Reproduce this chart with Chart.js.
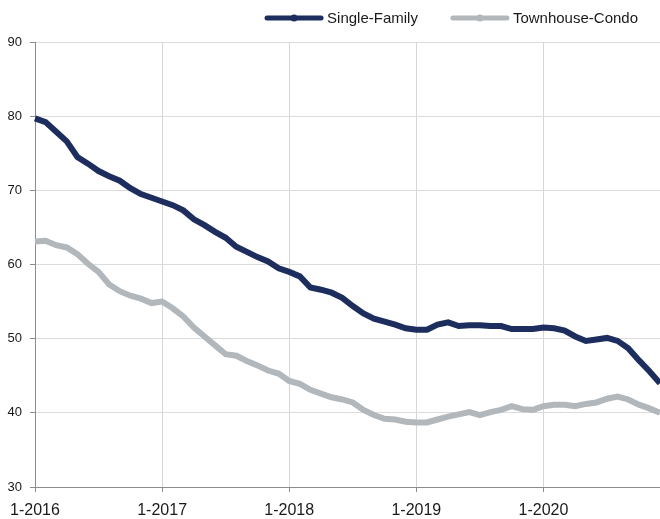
<!DOCTYPE html>
<html>
<head>
<meta charset="utf-8">
<script src="https://cdn.jsdelivr.net/npm/chart.js@4/dist/chart.umd.min.js"></script>
<style>
  body { margin: 0; background: #fff; }
  canvas { display: block; }
</style>
</head>
<body>
<canvas id="myChart" width="660" height="519"></canvas>
<script>
var monthLabels = [
  '1-2016','2-2016','3-2016','4-2016','5-2016','6-2016','7-2016','8-2016','9-2016','10-2016','11-2016','12-2016',
  '1-2017','2-2017','3-2017','4-2017','5-2017','6-2017','7-2017','8-2017','9-2017','10-2017','11-2017','12-2017',
  '1-2018','2-2018','3-2018','4-2018','5-2018','6-2018','7-2018','8-2018','9-2018','10-2018','11-2018','12-2018',
  '1-2019','2-2019','3-2019','4-2019','5-2019','6-2019','7-2019','8-2019','9-2019','10-2019','11-2019','12-2019',
  '1-2020','2-2020','3-2020','4-2020','5-2020','6-2020','7-2020','8-2020','9-2020','10-2020','11-2020','12-2020'
];

var singleFamily = [
  79.7, 79.2, 77.9, 76.6, 74.5, 73.6, 72.6, 71.9, 71.3, 70.3, 69.5, 69.0,
  68.5, 68.0, 67.3, 66.1, 65.3, 64.4, 63.6, 62.4, 61.7, 61.0, 60.4, 59.5,
  59.0, 58.4, 56.9, 56.6, 56.2, 55.5, 54.4, 53.4, 52.7, 52.3, 51.9, 51.4,
  51.2, 51.2, 51.9, 52.2, 51.7, 51.8, 51.8, 51.7, 51.7, 51.3, 51.3, 51.3,
  51.5, 51.4, 51.1, 50.3, 49.7, 49.9, 50.1, 49.7, 48.7, 47.1, 45.6, 44.0
];

var townhouseCondo = [
  63.1, 63.2, 62.6, 62.3, 61.4, 60.1, 59.0, 57.3, 56.4, 55.8, 55.4, 54.8,
  55.0, 54.1, 53.0, 51.5, 50.3, 49.1, 47.9, 47.7, 47.0, 46.4, 45.7, 45.3,
  44.3, 43.9, 43.1, 42.6, 42.1, 41.8, 41.4, 40.4, 39.7, 39.2, 39.1, 38.8,
  38.7, 38.7, 39.1, 39.5, 39.8, 40.1, 39.7, 40.1, 40.4, 40.9, 40.5, 40.4,
  40.9, 41.1, 41.1, 40.9, 41.2, 41.4, 41.9, 42.2, 41.8, 41.1, 40.6, 40.0
];

var yTicks = [30, 40, 50, 60, 70, 80, 90];

var FONT = '"Liberation Sans", Arial, Helvetica, sans-serif';
var navy = '#1c2d5e';
var silver = '#b2b7bc';

// legend drawn by hand: long line swatch with a dot, right aligned
var lineLegend = {
  id: 'lineLegend',
  afterDraw: function (chart) {
    var ctx = chart.ctx;
    var sets = chart.data.datasets.slice().reverse();
    var x = 638, y = 18;
    ctx.save();
    ctx.font = '15px ' + FONT;
    ctx.textBaseline = 'middle';
    ctx.textAlign = 'left';
    sets.forEach(function (ds) {
      var w = ctx.measureText(ds.label).width;
      var tx = x - w;
      var x1 = tx - 6, x0 = x1 - 54;
      ctx.strokeStyle = ds.borderColor;
      ctx.lineWidth = 5;
      ctx.lineCap = 'round';
      ctx.beginPath();
      ctx.moveTo(x0, y);
      ctx.lineTo(x1, y);
      ctx.stroke();
      ctx.fillStyle = ds.borderColor;
      ctx.beginPath();
      ctx.arc((x0 + x1) / 2, y, 3.5, 0, Math.PI * 2);
      ctx.fill();
      ctx.fillStyle = '#1a1a1a';
      ctx.fillText(ds.label, tx, y + 1);
      x = x0 - 35;
    });
    ctx.restore();
  }
};

function isYear(i) { return i % 12 === 0; }

new Chart(document.getElementById('myChart').getContext('2d'), {
  type: 'line',
  data: {
    labels: monthLabels,
    datasets: [
      { label: 'Single-Family', data: singleFamily, borderColor: navy, backgroundColor: navy,
        borderWidth: 6, pointRadius: 0, tension: 0 },
      { label: 'Townhouse-Condo', data: townhouseCondo, borderColor: silver, backgroundColor: silver,
        borderWidth: 6, pointRadius: 0, tension: 0 }
    ]
  },
  options: {
    responsive: false,
    devicePixelRatio: 1,
    animation: false,
    layout: { padding: { top: 42, left: 0, right: 0, bottom: 0 } },
    plugins: {
      legend: { display: false },
      tooltip: { enabled: false }
    },
    scales: {
      x: {
        offset: false,
        afterFit: function (s) {
          s.height = 32;
          s.paddingLeft = 0;
          s.paddingRight = 0;
        },
        border: { color: '#8c8c8c', width: 1 },
        grid: {
          color: function (c) { return isYear(c.index) ? '#d6d6d6' : 'rgba(0,0,0,0)'; },
          tickColor: function (c) { return isYear(c.index) ? '#8c8c8c' : 'rgba(0,0,0,0)'; },
          tickLength: 5,
          lineWidth: 1
        },
        ticks: {
          autoSkip: false,
          maxRotation: 0,
          minRotation: 0,
          padding: 9,
          color: '#1a1a1a',
          font: { family: FONT, size: 16 },
          callback: function (v, i) { return isYear(i) ? monthLabels[i] : ''; }
        }
      },
      y: {
        min: yTicks[0],
        max: yTicks[yTicks.length - 1],
        afterFit: function (s) { s.width = 35; },
        afterBuildTicks: function (s) { s.ticks = yTicks.map(function (v) { return { value: v }; }); },
        border: { color: '#8c8c8c', width: 1 },
        grid: { color: '#dcdcdc', tickColor: '#8c8c8c', tickLength: 5, lineWidth: 1 },
        ticks: {
          padding: 8,
          color: '#1a1a1a',
          font: { family: FONT, size: 13 }
        }
      }
    }
  },
  plugins: [lineLegend]
});
</script>
</body>
</html>
